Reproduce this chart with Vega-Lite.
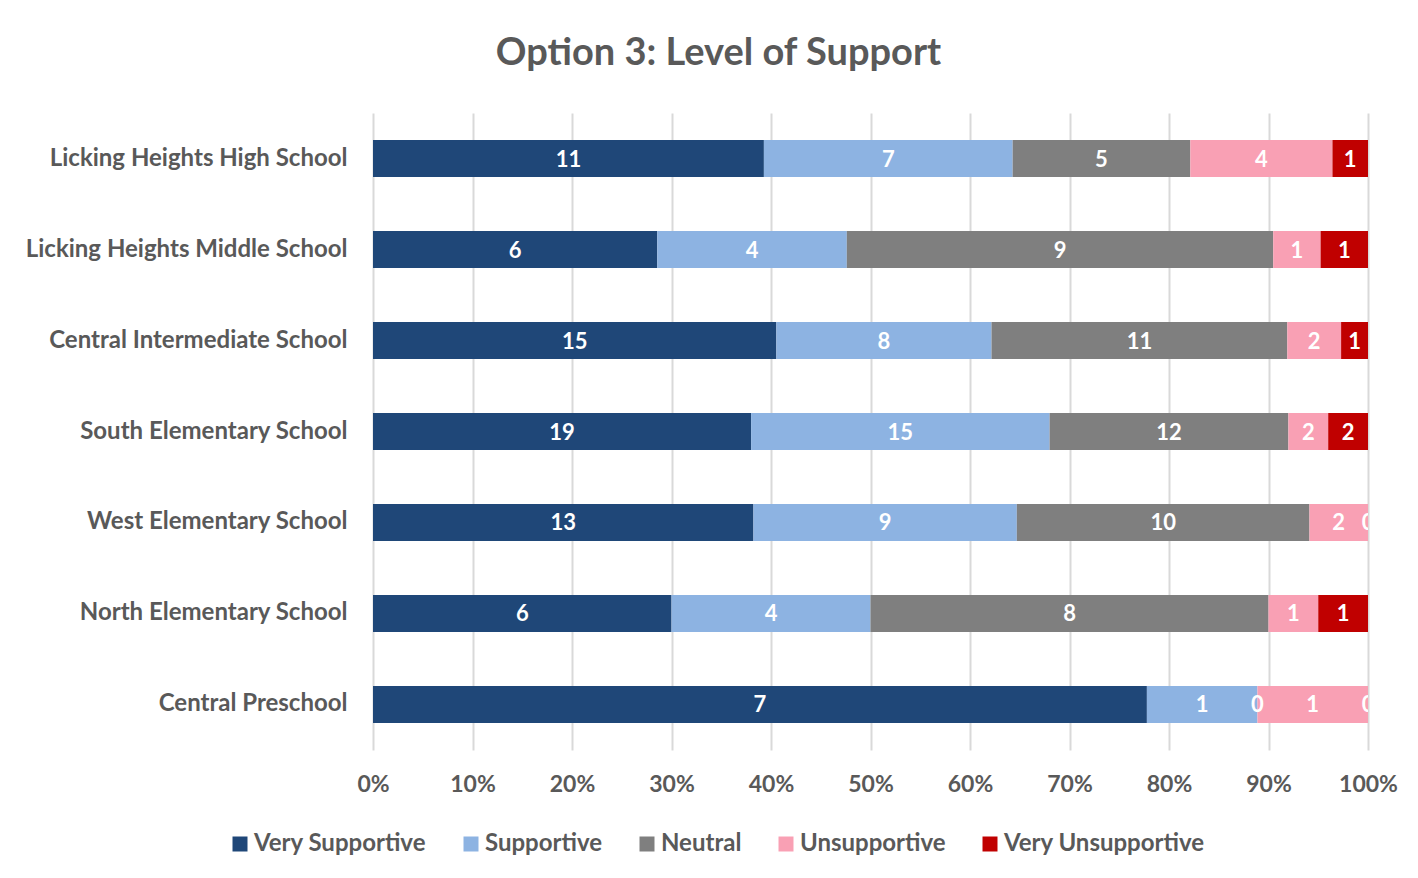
{
  "$schema": "https://vega.github.io/schema/vega-lite/v6.json",
  "autosize": {"type": "none"},
  "width": 995,
  "height": 637,
  "padding": {"left": 373, "top": 113, "right": 50, "bottom": 128},
  "background": "white",
  "title": {
    "text": "Option 3: Level of Support",
    "font": "Lato",
    "fontSize": 38,
    "fontWeight": "bold",
    "color": "#595959",
    "anchor": "middle",
    "dx": -152,
    "offset": 40
  },
  "data": {
    "values": [
      {"school": "Licking Heights High School", "response": "Very Supportive", "level": 1, "count": 11},
      {"school": "Licking Heights High School", "response": "Supportive", "level": 2, "count": 7},
      {"school": "Licking Heights High School", "response": "Neutral", "level": 3, "count": 5},
      {"school": "Licking Heights High School", "response": "Unsupportive", "level": 4, "count": 4},
      {"school": "Licking Heights High School", "response": "Very Unsupportive", "level": 5, "count": 1},
      {"school": "Licking Heights Middle School", "response": "Very Supportive", "level": 1, "count": 6},
      {"school": "Licking Heights Middle School", "response": "Supportive", "level": 2, "count": 4},
      {"school": "Licking Heights Middle School", "response": "Neutral", "level": 3, "count": 9},
      {"school": "Licking Heights Middle School", "response": "Unsupportive", "level": 4, "count": 1},
      {"school": "Licking Heights Middle School", "response": "Very Unsupportive", "level": 5, "count": 1},
      {"school": "Central Intermediate School", "response": "Very Supportive", "level": 1, "count": 15},
      {"school": "Central Intermediate School", "response": "Supportive", "level": 2, "count": 8},
      {"school": "Central Intermediate School", "response": "Neutral", "level": 3, "count": 11},
      {"school": "Central Intermediate School", "response": "Unsupportive", "level": 4, "count": 2},
      {"school": "Central Intermediate School", "response": "Very Unsupportive", "level": 5, "count": 1},
      {"school": "South Elementary School", "response": "Very Supportive", "level": 1, "count": 19},
      {"school": "South Elementary School", "response": "Supportive", "level": 2, "count": 15},
      {"school": "South Elementary School", "response": "Neutral", "level": 3, "count": 12},
      {"school": "South Elementary School", "response": "Unsupportive", "level": 4, "count": 2},
      {"school": "South Elementary School", "response": "Very Unsupportive", "level": 5, "count": 2},
      {"school": "West Elementary School", "response": "Very Supportive", "level": 1, "count": 13},
      {"school": "West Elementary School", "response": "Supportive", "level": 2, "count": 9},
      {"school": "West Elementary School", "response": "Neutral", "level": 3, "count": 10},
      {"school": "West Elementary School", "response": "Unsupportive", "level": 4, "count": 2},
      {"school": "West Elementary School", "response": "Very Unsupportive", "level": 5, "count": 0},
      {"school": "North Elementary School", "response": "Very Supportive", "level": 1, "count": 6},
      {"school": "North Elementary School", "response": "Supportive", "level": 2, "count": 4},
      {"school": "North Elementary School", "response": "Neutral", "level": 3, "count": 8},
      {"school": "North Elementary School", "response": "Unsupportive", "level": 4, "count": 1},
      {"school": "North Elementary School", "response": "Very Unsupportive", "level": 5, "count": 1},
      {"school": "Central Preschool", "response": "Very Supportive", "level": 1, "count": 7},
      {"school": "Central Preschool", "response": "Supportive", "level": 2, "count": 1},
      {"school": "Central Preschool", "response": "Neutral", "level": 3, "count": 0},
      {"school": "Central Preschool", "response": "Unsupportive", "level": 4, "count": 1},
      {"school": "Central Preschool", "response": "Very Unsupportive", "level": 5, "count": 0}
    ]
  },
  "encoding": {
    "y": {
      "field": "school",
      "type": "nominal",
      "sort": ["Licking Heights High School", "Licking Heights Middle School", "Central Intermediate School", "South Elementary School", "West Elementary School", "North Elementary School", "Central Preschool"],
      "scale": {"paddingInner": 0.593, "paddingOuter": 0.297},
      "axis": {
        "title": null,
        "domain": false,
        "ticks": false,
        "labelFont": "Lato",
        "labelFontSize": 24,
        "labelFontWeight": "bold",
        "labelColor": "#595959",
        "labelPadding": 26,
        "labelLimit": 400
      }
    },
    "x": {
      "field": "count",
      "type": "quantitative",
      "stack": "normalize",
      "scale": {"domain": [0, 1], "nice": false},
      "axis": {
        "title": null,
        "values": [0, 0.1, 0.2, 0.3, 0.4, 0.5, 0.6, 0.7, 0.8, 0.9, 1],
        "format": ".0%",
        "domain": false,
        "ticks": false,
        "grid": true,
        "gridColor": "#d9d9d9",
        "gridWidth": 2,
        "labelFlush": false,
        "labelFont": "Lato",
        "labelFontSize": 23,
        "labelFontWeight": "bold",
        "labelColor": "#595959",
        "labelPadding": 23
      }
    },
    "order": {"field": "level", "type": "quantitative", "sort": "ascending"}
  },
  "layer": [
    {
      "mark": {"type": "bar"},
      "encoding": {
        "color": {
          "field": "response",
          "type": "nominal",
          "scale": {
            "domain": ["Very Supportive", "Supportive", "Neutral", "Unsupportive", "Very Unsupportive"],
            "range": ["#1f4778", "#8db3e2", "#7f7f7f", "#f9a0b4", "#c00000"]
          },
          "legend": {
            "title": null,
            "orient": "none",
            "direction": "horizontal",
            "columns": 5,
            "legendX": -145,
            "legendY": 719,
            "symbolType": "square",
            "symbolSize": 225,
            "symbolStrokeWidth": 0,
            "labelFont": "Lato",
            "labelFontSize": 24,
            "labelFontWeight": "bold",
            "labelColor": "#595959",
            "labelOffset": 2,
            "columnPadding": 32,
            "labelLimit": 400
          }
        }
      }
    },
    {
      "mark": {"type": "text", "color": "white", "font": "Lato", "fontSize": 22, "fontWeight": "bold", "clip": true, "baseline": "middle", "dy": 1},
      "encoding": {
        "x": {"field": "count", "type": "quantitative", "stack": "normalize", "bandPosition": 0.5},
        "text": {"field": "count", "type": "quantitative"}
      }
    }
  ],
  "config": {
    "view": {"stroke": null}
  }
}
